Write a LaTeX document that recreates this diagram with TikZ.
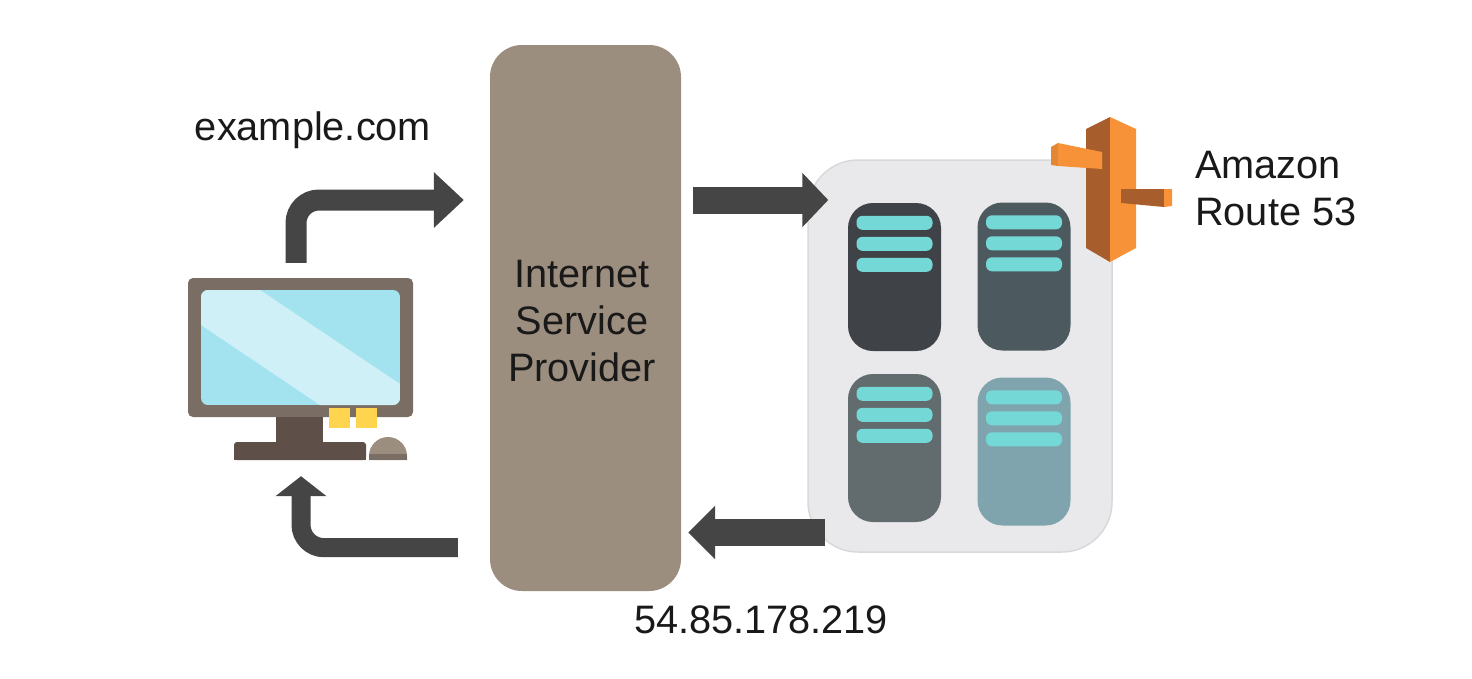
\documentclass[tikz,border=0pt]{standalone}
\usepackage{fontspec}
\setmainfont{Liberation Sans}
\usetikzlibrary{arrows.meta,positioning}

\definecolor{ispbrown}{HTML}{9C8E7E}
\definecolor{monframe}{HTML}{7A6E64}
\definecolor{monstand}{HTML}{5E4F49}
\definecolor{monscreen}{HTML}{A3E3EF}
\definecolor{monglare}{HTML}{CFF0F6}
\definecolor{monkey}{HTML}{FFD54F}
\definecolor{arrowgrey}{HTML}{454545}
\definecolor{panelgrey}{HTML}{E9E9EB}
\definecolor{panelline}{HTML}{D9D9DB}
\definecolor{barteal}{HTML}{74D8D6}
\definecolor{srvone}{HTML}{3F4347}
\definecolor{srvtwo}{HTML}{4C5A60}
\definecolor{srvthree}{HTML}{626B6E}
\definecolor{srvfour}{HTML}{7FA4AD}
\definecolor{r53light}{HTML}{F79239}
\definecolor{r53dark}{HTML}{A85E2C}

\begin{document}
\begin{tikzpicture}[x=1pt,y=-1pt,
  label/.style={inner sep=0pt,text=black!90,font=\fontsize{39.7}{47}\selectfont},
  flowarrow/.style n args={3}{draw=arrowgrey,line width=#1,rounded corners=23pt,
    -{Triangle[length=#2,width=#3,color=arrowgrey]}},
  serverbox/.style={rectangle,rounded corners=25pt,minimum width=93pt,minimum height=148pt,inner sep=0pt},
  serverbar/.style={rectangle,rounded corners=6pt,fill=barteal,minimum width=76pt,minimum height=14pt,inner sep=0pt}]
  \useasboundingbox (0,0) rectangle (1472,678);

  % provider and panel
  \node [rectangle,rounded corners=32pt,fill=ispbrown,minimum width=191pt,minimum height=546pt,inner sep=0pt] (isp) at (585.5,318) {};
  \node [label,align=center] (isptext) at (582,321) {Internet\\Service\\Provider};
  \node [rectangle,rounded corners=50pt,fill=panelgrey,draw=panelline,line width=1.5pt,minimum width=304pt,minimum height=392pt,inner sep=0pt] (panel) at (960,356) {};

  % servers
  \foreach \srv/\px/\py/\col in {srva/894.5/277/srvone,srvb/1024/276.5/srvtwo,srvc/894.5/448/srvthree,srvd/1024/451.5/srvfour} {
    \node [serverbox,fill=\col] (\srv) at (\px,\py) {};
    \foreach \i in {0,1,2}
      \node [serverbar] (\srv-\i) at ([yshift={-20pt-21pt*\i}]\srv.north) {};
  }

  % monitor
  \node [rectangle,rounded corners=5pt,fill=monframe,minimum width=225pt,minimum height=139pt,inner sep=0pt] (monitor) at (300.5,347.5) {};
  \node [rectangle,fill=monstand,minimum width=47pt,minimum height=26pt,inner sep=0pt] (monneck) at (299.5,430) {};
  \node [rectangle,rounded corners=3pt,fill=monstand,minimum width=132pt,minimum height=18pt,inner sep=0pt] (monbase) at (300,451) {};
  \fill [monstand] (234,455) rectangle (366,460);
  \begin{scope}
    \clip [rounded corners=7pt] (201,290) rectangle (400,405);
    \fill [monscreen] (201,290) rectangle (400,405);
    \fill [monglare] (260,290) -- (400,384) -- (400,405) -- (320,405) -- (201,325) -- (201,290) -- cycle;
  \end{scope}
  \foreach \kx in {339.5,366.5}
    \node [rectangle,fill=monkey,minimum width=21pt,minimum height=20pt,inner sep=0pt] at (\kx,418) {};
  \fill [ispbrown] (369,460) -- (369,456) arc [start angle=180,end angle=0,x radius=19pt,y radius=19pt] -- (407,460) -- cycle;
  \fill [monframe] (369,454) rectangle (407,460);

  % route 53
  \fill [r53dark] (1110,117) -- (1086,129) -- (1086,248) -- (1110,262) -- cycle;
  \fill [r53light] (1110,117) -- (1136,129) -- (1136,248) -- (1110,262) -- cycle;
  \fill [r53light!92!black] (1058,143) -- (1051,147) -- (1051,165) -- (1058,166) -- cycle;
  \fill [r53light] (1058,143) -- (1102,152) -- (1102,169) -- (1058,166) -- cycle;
  \fill [r53dark] (1121,189) -- (1164,189) -- (1164,207) -- (1121,203) -- cycle;
  \fill [r53light] (1164,189) -- (1172,189) -- (1172,206) -- (1164,207) -- cycle;

  % connectors
  \coordinate (rowtop) at (0,200);
  \coordinate (rowmid) at (0,532.5);
  \coordinate (rowbot) at (0,547.7);
  \draw [flowarrow={21pt}{30pt}{54pt},shorten <=15pt,shorten >=26pt] ([xshift=-4.5pt]monitor.north) |- (isp.west |- rowtop);
  \draw [flowarrow={27pt}{26pt}{53pt},shorten <=12pt,shorten >=-21pt] (isp.east |- rowtop) -- (panel.west |- rowtop);
  \draw [flowarrow={27pt}{27pt}{52pt},shorten <=-18pt,shorten >=7pt] (panel.west |- rowmid) -- (isp.east |- rowmid);
  \draw [flowarrow={19pt}{20pt}{50pt},shorten <=32pt,shorten >=16pt] (isp.west |- rowbot) -| ([xshift=1pt]monbase.south);

  % labels
  \node [label] (sitename) at (313,130) {example.com};
  \node [label,align=left,anchor=west] (r53name) at (1195,189) {Amazon\\Route 53};
  \node [label] (ipaddr) at (761,620) {54.85.178.219};
\end{tikzpicture}
\end{document}
